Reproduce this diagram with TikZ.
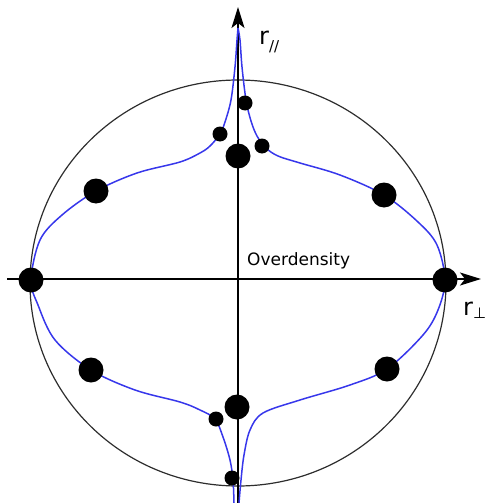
\documentclass[tikz,border=0pt]{standalone}
\usepackage{fontspec}
\setmainfont{DejaVu Sans}
\usetikzlibrary{arrows.meta}
\definecolor{curveblue}{RGB}{55,55,235}
\definecolor{ringgray}{RGB}{45,45,45}
\tikzset{
  axisline/.style={line width=1.5pt, black, -{Stealth[length=21pt,width=13pt,inset=5pt]}},
  ring/.style={line width=1.2pt, ringgray},
  blueline/.style={line width=1.5pt, curveblue},
  bigdot/.style={circle, fill=black, inner sep=0pt, minimum size=25pt},
  smalldot/.style={circle, fill=black, inner sep=0pt, minimum size=15pt},
  lbl/.style={inner sep=0pt, anchor=base west}
}
\begin{document}
\begin{tikzpicture}[x=1pt,y=-1pt]
\useasboundingbox (0,0) rectangle (485,503);
% circle (slightly wide ellipse)
\node[draw=none, inner sep=0pt] (ctr) at (238,283) {};
\draw[ring] (ctr.center) ellipse [x radius=208, y radius=203];
% axes
\coordinate (xl) at (7,279);
\coordinate (xr) at (481,279);
\coordinate (yb) at (238,503);
\coordinate (yt) at (238,7);
\draw[axisline] (xl) -- (xr);
\draw[axisline] (yb) -- (yt);
% blue curve
\draw[blueline] plot[smooth, tension=0.55] coordinates {
 (238,28) (237,40) (235,67) (231,100) (225,122) (220,134) (210,146) (200,153)
 (180,162) (137,173) (96,191) (62,215) (40,240) (31,280) (38,305) (55,340)
 (91,370) (135,390) (180,402) (200,410) (215,419) (223,437) (230,460) (233,480) (234,503)};
\draw[blueline] plot[smooth, tension=0.55] coordinates {
 (238,28) (240,40) (242,67) (246,100) (251,121) (257,136) (266,148) (278,156)
 (300,163) (340,175) (384,195) (418,222) (437,245) (445,280) (438,310) (423,335)
 (387,369) (350,385) (300,400) (263,413) (250,430) (244,455) (241,480) (239,503)};
% dots
\node[bigdot] (d1) at (31,280) {};
\node[bigdot] (d2) at (445,280) {};
\node[bigdot] (d3) at (96,191) {};
\node[bigdot] (d4) at (384,195) {};
\node[bigdot] (d5) at (91,370) {};
\node[bigdot] (d6) at (387,369) {};
\node[bigdot] (d7) at (238,156) {};
\node[bigdot] (d8) at (237,407) {};
\node[smalldot] (s1) at (220,134) {};
\node[smalldot] (s2) at (245,103) {};
\node[smalldot] (s3) at (262,146) {};
\node[smalldot] (s4) at (216,419) {};
\node[smalldot] (s5) at (232,478) {};
% labels
\node[lbl] (over) at (247,265) {\fontsize{17}{17}\selectfont Overdensity};
\node[lbl] (rpar) at (259,45) {\fontsize{24}{24}\selectfont r\raisebox{-7pt}{\fontsize{15}{15}\selectfont //}};
\node[lbl] (rperp) at (463,315) {\fontsize{24}{24}\selectfont r\raisebox{-3pt}{\fontsize{15}{15}\selectfont ⊥}};
\end{tikzpicture}
\end{document}
